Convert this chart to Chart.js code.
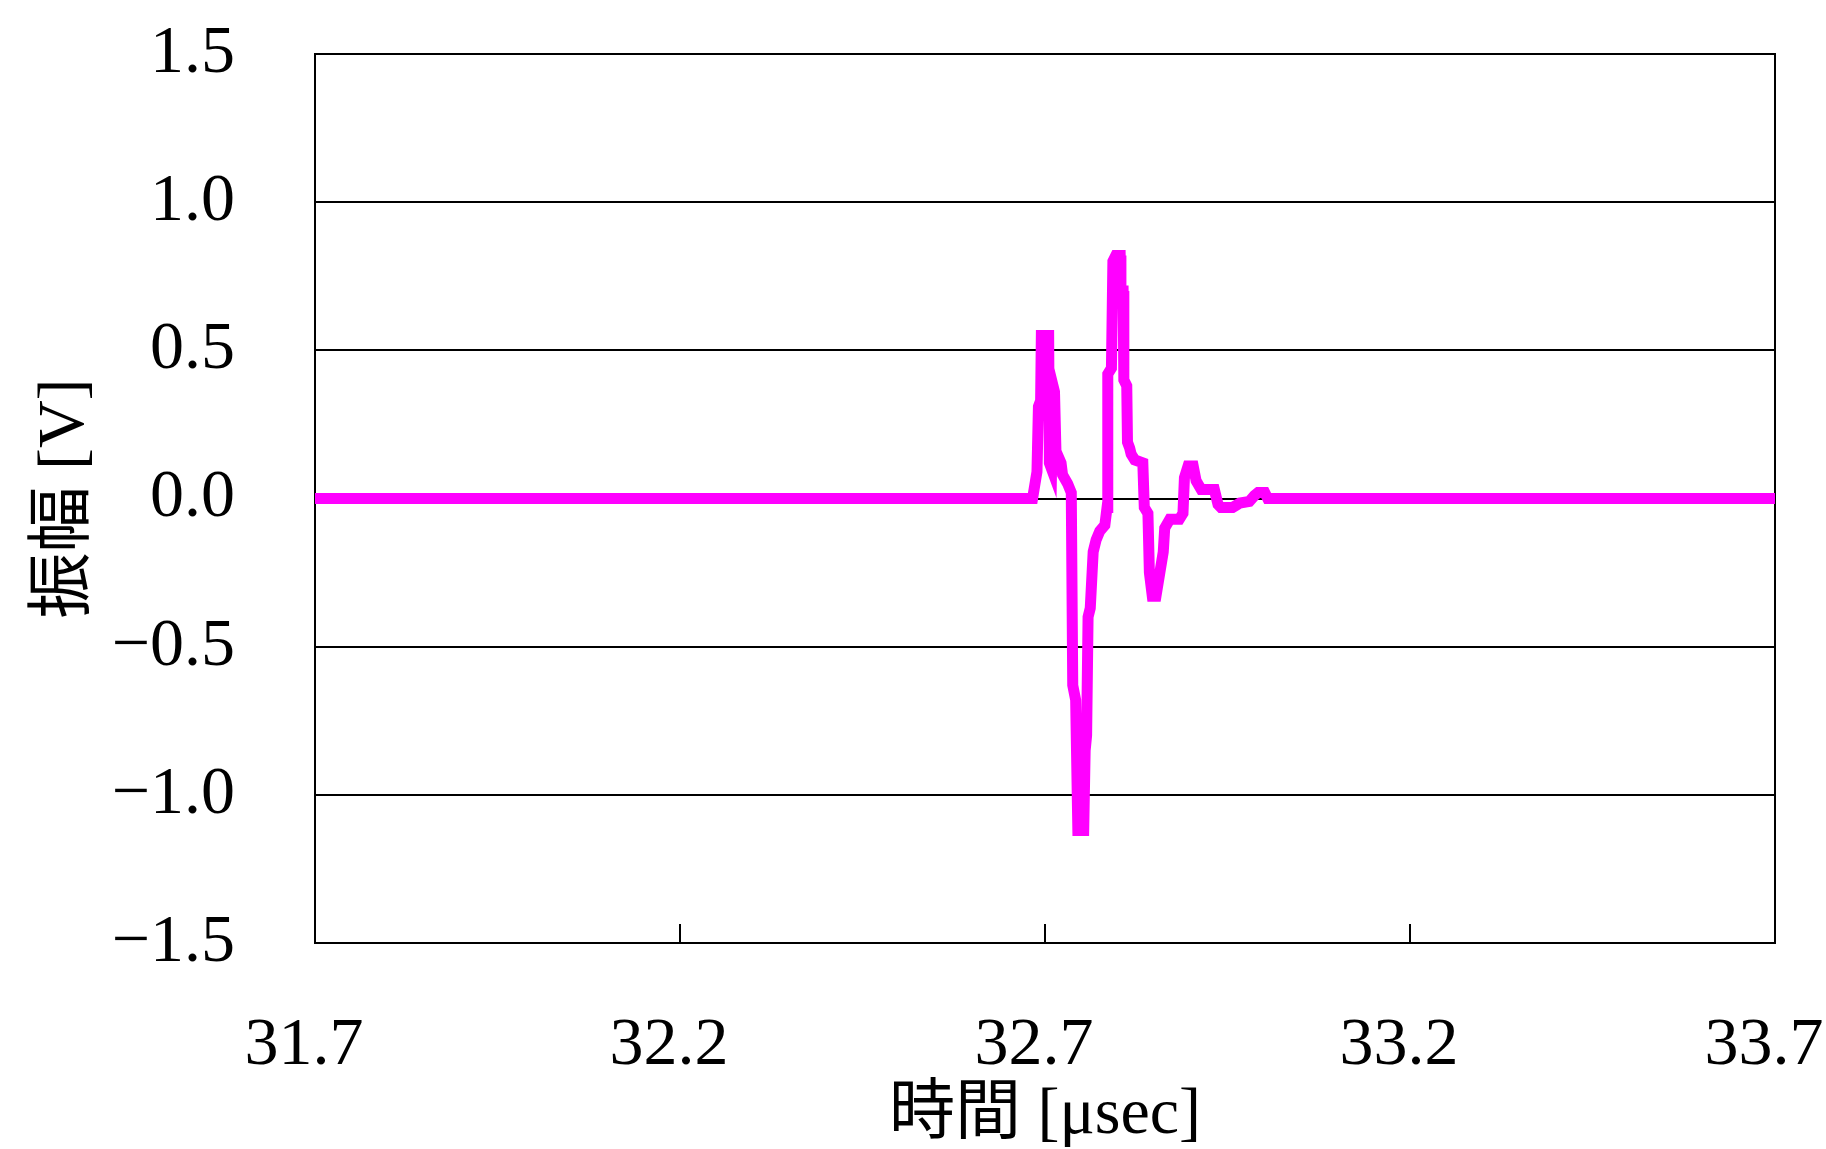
<!DOCTYPE html>
<html lang="ja">

<head>
    <meta charset="UTF-8">
    <meta name="viewport" content="width=device-width, initial-scale=1.0">
    <script src="https://cdn.jsdelivr.net/npm/chart.js"></script>
    <title>振幅波形</title>
</head>

<body>
    <div class="chart-wrapper">
        <canvas id="myChart"></canvas>
    </div>
    <style>
        body {
            background-color: #fff;
            margin: 0;
        }

        .chart-wrapper {
            position: relative;
            width: 1826px;
            height: 1149px;
        }
    </style>
    <script>
        // time [usec] and amplitude [V]
        const times = [31.700, 32.683, 32.687, 32.689, 32.691, 32.694, 32.695, 32.705, 32.706, 32.709,
            32.711, 32.713, 32.715, 32.722, 32.724, 32.731, 32.736, 32.738, 32.742, 32.745,
            32.753, 32.755, 32.757, 32.759, 32.762, 32.766, 32.770, 32.775, 32.782, 32.785,
            32.786, 32.791, 32.793, 32.797, 32.803, 32.804, 32.807, 32.808, 32.812, 32.813,
            32.816, 32.818, 32.823, 32.834, 32.836, 32.841, 32.843, 32.847, 32.852, 32.862,
            32.864, 32.871, 32.884, 32.889, 32.891, 32.896, 32.903, 32.907, 32.914, 32.932,
            32.937, 32.941, 32.957, 32.967, 32.980, 32.987, 32.992, 33.001, 33.005, 33.700];
        const amplitude = [0, 0, 0.06, 0.09, 0.31, 0.33, 0.55, 0.55, 0.12, 0.10,
            0.38, 0.36, 0.16, 0.12, 0.08, 0.05, 0.02, -0.63, -0.68, -1.12,
            -1.12, -0.85, -0.80, -0.40, -0.37, -0.18, -0.14, -0.11, -0.09, -0.03,
            0.42, 0.44, 0.80, 0.82, 0.82, 0.70, 0.70, 0.40, 0.38, 0.19,
            0.17, 0.15, 0.13, 0.12, -0.03, -0.05, -0.25, -0.33, -0.33, -0.18,
            -0.10, -0.07, -0.07, -0.05, 0.07, 0.11, 0.11, 0.06, 0.03, 0.03,
            -0.02, -0.03, -0.03, -0.015, -0.01, 0.01, 0.02, 0.02, 0, 0];

        const xTicks = [31.7, 32.2, 32.7, 33.2, 33.7];
        const yTicks = [-1.5, -1.0, -0.5, 0.0, 0.5, 1.0, 1.5];

        const serif = "'Liberation Serif', 'Noto Sans CJK JP', serif";

        // plot frame and the short inward ticks on the time axis
        const frame = {
            id: "frame",
            beforeDatasetsDraw(chart) {
                const { ctx, chartArea: a, scales: { x } } = chart;
                ctx.save();
                ctx.strokeStyle = "#000";
                ctx.lineWidth = 2;
                ctx.strokeRect(a.left, a.top, a.right - a.left, a.bottom - a.top);
                ctx.beginPath();
                xTicks.slice(1, -1).forEach(v => {
                    const px = x.getPixelForValue(v);
                    ctx.moveTo(px, a.bottom);
                    ctx.lineTo(px, a.bottom - 19);
                });
                ctx.stroke();
                ctx.restore();
            }
        };

        const ctx = document.getElementById("myChart");

        new Chart(ctx, {
            type: "scatter",
            data: {
                datasets: [{
                    label: "振幅",
                    data: times.map((t, i) => ({ x: t, y: amplitude[i] })),
                    showLine: true,
                    borderColor: "#ff00ff",
                    borderWidth: 11,
                    borderJoinStyle: "miter",
                    pointRadius: 0,
                    tension: 0
                }]
            },
            options: {
                responsive: true,
                maintainAspectRatio: false,
                animation: false,
                layout: { padding: { top: 54, right: 51, left: 0, bottom: 0 } },
                plugins: { legend: { display: false }, tooltip: { enabled: false } },
                scales: {
                    x: {
                        type: "linear",
                        min: 31.7,
                        max: 33.7,
                        afterBuildTicks: s => { s.ticks = xTicks.map(v => ({ value: v })); },
                        afterFit: s => { s.height = 206; s.paddingLeft = 0; s.paddingRight = 0; },
                        grid: { display: false },
                        border: { display: true, color: "#000", width: 2 },
                        ticks: {
                            color: "#000",
                            font: { family: serif, size: 68 },
                            padding: 54,
                            labelOffset: -11,
                            maxRotation: 0,
                            callback: v => v.toFixed(1)
                        },
                        title: {
                            display: true,
                            text: "時間 [μsec]",
                            color: "#000",
                            font: { family: serif, size: 66, lineHeight: 1 },
                            padding: { top: 0, bottom: 0 }
                        }
                    },
                    y: {
                        type: "linear",
                        min: -1.5,
                        max: 1.5,
                        afterBuildTicks: s => { s.ticks = yTicks.map(v => ({ value: v })); },
                        afterFit: s => { s.width = 315; s.paddingTop = 0; s.paddingBottom = 0; },
                        grid: { color: "#000", lineWidth: 2, drawTicks: false },
                        border: { display: true, color: "#000", width: 2 },
                        ticks: {
                            color: "#000",
                            font: { family: serif, size: 68 },
                            padding: 80,
                            callback: v => v.toFixed(1).replace("-", "\u2212")
                        },
                        title: {
                            display: true,
                            text: "振幅 [V]",
                            color: "#000",
                            font: { family: serif, size: 66, lineHeight: 1 },
                            padding: { top: 33, bottom: 0 }
                        }
                    }
                }
            },
            plugins: [frame]
        });
    </script>
</body>

</html>
